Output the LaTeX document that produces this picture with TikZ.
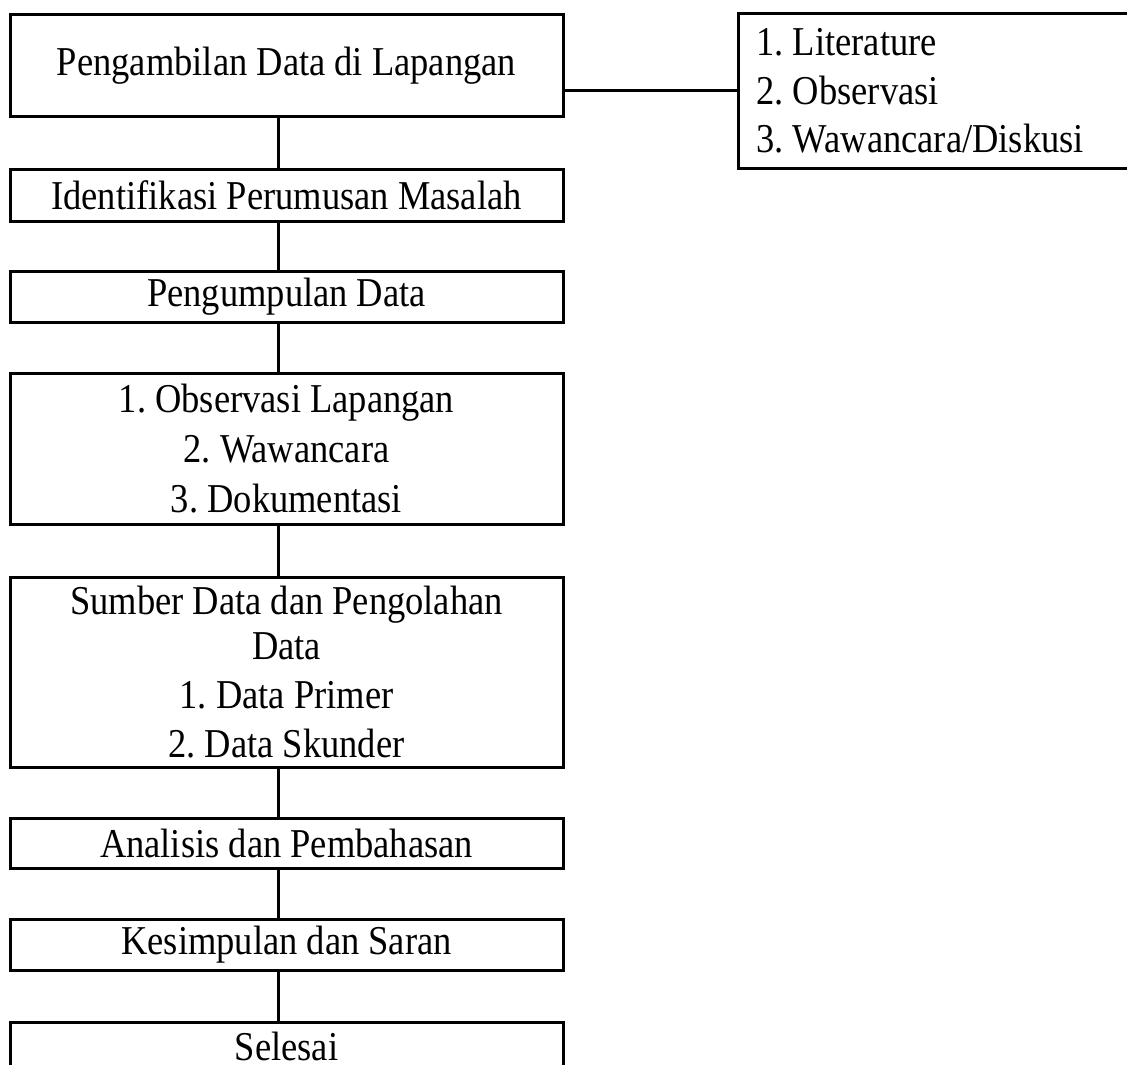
\documentclass[tikz,border=0pt]{standalone}
\usepackage{fontspec}
\setmainfont{Liberation Serif}[FakeStretch=0.89]
\begin{document}
\frenchspacing
\begin{tikzpicture}[x=1pt,y=-1pt,
  box/.style={draw, line width=3pt, minimum width=553pt, inner sep=0pt, align=center, anchor=north, font=\fontsize{41}{47}\selectfont},
  sidebox/.style={draw, line width=3pt, anchor=north west, minimum height=155pt, text width=380pt, inner xsep=18pt, inner ysep=0pt, align=flush left, font=\fontsize{41}{48.5}\selectfont},
  link/.style={line width=3pt}]
\useasboundingbox (0,0) rectangle (1127,1065);
\begin{scope}
\clip (0,0) rectangle (1127,1065);
\node[box, minimum height=102pt] (b1) at (286.5,13) {Pengambilan Data di Lapangan};
\node[box, minimum height=52pt] (b2) at (286.5,168) {Identifikasi Perumusan Masalah};
\node[box, minimum height=51pt] (b3) at (286.5,270) {Pengumpulan Data};
\node[box, minimum height=151pt, font=\fontsize{41}{50}\selectfont] (b4) at (286.5,372) {1. Observasi Lapangan\\2. Wawancara\\3. Dokumentasi};
\node[box, minimum height=190pt] (b5) at (286.5,576) {Sumber Data dan Pengolahan\\[-2pt]Data\\[2pt]1. Data Primer\\[2pt]2. Data Skunder};
\node[box, minimum height=50pt] (b6) at (286.5,817) {Analisis dan Pembahasan};
\node[box, minimum height=51pt] (b7) at (286.5,918) {Kesimpulan dan Saran};
\node[box, minimum height=47pt] (b8) at (286.5,1021) {Selesai};
\node[sidebox] (r) at (737,12) {1. Literature\\2. Observasi\\3. Wawancara/Diskusi};
\draw[link] ([xshift=-8.5pt]b1.south) -- ([xshift=-8.5pt]b2.north);
\draw[link] ([xshift=-8.5pt]b2.south) -- ([xshift=-8.5pt]b3.north);
\draw[link] ([xshift=-8.5pt]b3.south) -- ([xshift=-8.5pt]b4.north);
\draw[link] ([xshift=-8.5pt]b4.south) -- ([xshift=-8.5pt]b5.north);
\draw[link] ([xshift=-8.5pt]b5.south) -- ([xshift=-8.5pt]b6.north);
\draw[link] ([xshift=-8.5pt]b6.south) -- ([xshift=-8.5pt]b7.north);
\draw[link] ([xshift=-8.5pt]b7.south) -- ([xshift=-8.5pt]b8.north);
\draw[link] ([yshift=-25pt]b1.east) -- ([yshift=-25pt]b1.east -| r.west);
\end{scope}
\end{tikzpicture}
\end{document}
